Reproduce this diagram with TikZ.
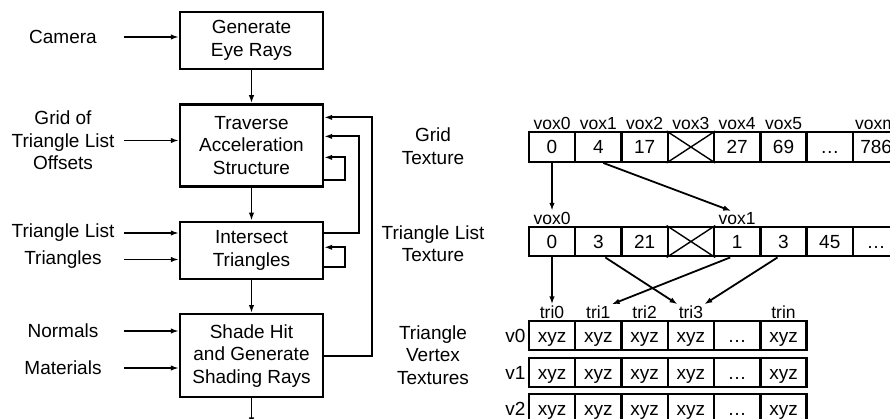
\documentclass[tikz,border=0pt]{standalone}
\usepackage{fontspec}
\setmainfont{Liberation Sans}
\usetikzlibrary{arrows.meta,positioning}

\begin{document}
\begin{tikzpicture}[x=1pt,y=-1pt,>={Latex[length=8pt,width=5.5pt]},node distance=33pt]
    \tikzset{box/.style={draw,line width=2.4pt,minimum width=143pt,minimum height=57pt,align=center,font=\fontsize{19}{22.5}\selectfont},
      lbl/.style={minimum width=122pt,inner sep=0pt,align=center,font=\fontsize{19}{22.5}\selectfont},
      cell/.style={draw,line width=2.4pt,minimum width=46.3pt,minimum height=29.5pt,inner sep=0pt,text height=13.6pt,text depth=0pt,font=\fontsize{19}{22}\selectfont},
      tag/.style={inner sep=1pt,font=\fontsize{17.5}{20}\selectfont},
      rowtag/.style={inner sep=1pt,font=\fontsize{19}{22}\selectfont},
      flow/.style={->,line width=1.8pt}}
    \useasboundingbox (0,0) rectangle (890,419);
    % pipeline
    \node[box] (gen) at (251.5,40.5) {Generate\\Eye Rays};
    \node[box,below=of gen,minimum height=82pt] (trav) {Traverse\\Acceleration\\Structure};
    \node[box,below=of trav] (isect) {Intersect\\Triangles};
    \node[box,below=of isect,minimum height=83pt] (shade) {Shade Hit\\and Generate\\Shading Rays};
    \coordinate (exit) at ([yshift=-27pt]shade.south);
    \draw[flow] (gen) -- (trav);
    \draw[flow] (trav) -- (isect);
    \draw[flow] (isect) -- (shade);
    \draw[flow] (shade) -- (exit);
    \draw[flow] (shade.east) -- ++(48,0) |- ([yshift=28pt]trav.east);
    \draw[flow] ([yshift=17pt]isect.east) -- ++(35,0) |- ([yshift=9pt]trav.east);
    \draw[flow] ([yshift=-35pt]trav.east) -- ++(21,0) |- ([yshift=-12pt]trav.east);
    \draw[flow] ([yshift=-17pt]isect.east) -- ++(21,0) |- ([yshift=3pt]isect.east);
    % inputs
    \node[lbl] (cam) at (63,37) {Camera};
    \node[lbl] (grid) at (63,140.5) {Grid of\\Triangle List\\Offsets};
    \node[lbl] (tlist) at (63,233) {Triangle List};
    \node[lbl] (tris) at (63,259.5) {Triangles};
    \node[lbl] (norm) at (63,331) {Normals};
    \node[lbl] (mat) at (63,368) {Materials};
    \draw[flow] (cam.east) -- (cam.east -| gen.west);
    \draw[flow] (grid.east) -- (grid.east -| trav.west);
    \draw[flow] (tlist.east) -- (tlist.east -| isect.west);
    \draw[flow] (tris.east) -- (tris.east -| isect.west);
    \draw[flow] (norm.east) -- (norm.east -| shade.west);
    \draw[flow] (mat.east) -- (mat.east -| shade.west);
    % textures
    \node[lbl] (gtex) at (433,146) {Grid\\Texture};
    \node[lbl] (ttex) at (433,243.5) {Triangle List\\Texture};
    \node[lbl] (vtex) at (433,355) {Triangle\\Vertex\\Textures};
    \foreach \v [count=\i from 0] in {0,4,17,{},27,69,\dots,786}
      \node[cell] (g\i) at ({552+46.3*\i},147) {\v};
    \foreach \i in {0,...,5}
      \node[tag,above=0pt of g\i] (gl\i) {vox\i};
    \node[tag,above=0pt of g7] (gl7) {voxm};
    \foreach \v [count=\i from 0] in {0,3,21,{},1,3,45,\dots}
      \node[cell] (t\i) at ({552+46.3*\i},241.5) {\v};
    \node[tag,above=0pt of t0] (tl0) {vox0};
    \node[tag,above=0pt of t4] (tl1) {vox1};
    \foreach \n in {g3,t3}
      \draw[line width=1.4pt] (\n.north west) -- (\n.south east) (\n.south west) -- (\n.north east);
    \foreach \r/\y in {0/335.5,1/372.5,2/408.5} {
      \foreach \v [count=\i from 0] in {xyz,xyz,xyz,xyz,\dots,xyz}
        \node[cell] (v\r-\i) at ({552+46.3*\i},\y) {\v};
      \node[rowtag,left=1pt of v\r-0] (vl\r) {v\r};
    }
    \foreach \t/\i in {tri0/0,tri1/1,tri2/2,tri3/3,trin/5}
      \node[tag,above=0pt of v0-\i] (\t) {\t};
    \draw[flow] (g0.south) -- (tl0.north);
    \draw[flow] ([xshift=5pt]g1.south) -- ([xshift=-6pt]tl1.north);
    \draw[flow] (t0.south) -- (tri0.north);
    \draw[flow] ([xshift=7pt]t1.south) -- (tri3.north west);
    \draw[flow] ([xshift=-7pt]t4.south) -- (tri1.north east);
    \draw[flow] ([xshift=-6pt]t5.south) -- (tri3.north east);
  \end{tikzpicture}
\end{document}
